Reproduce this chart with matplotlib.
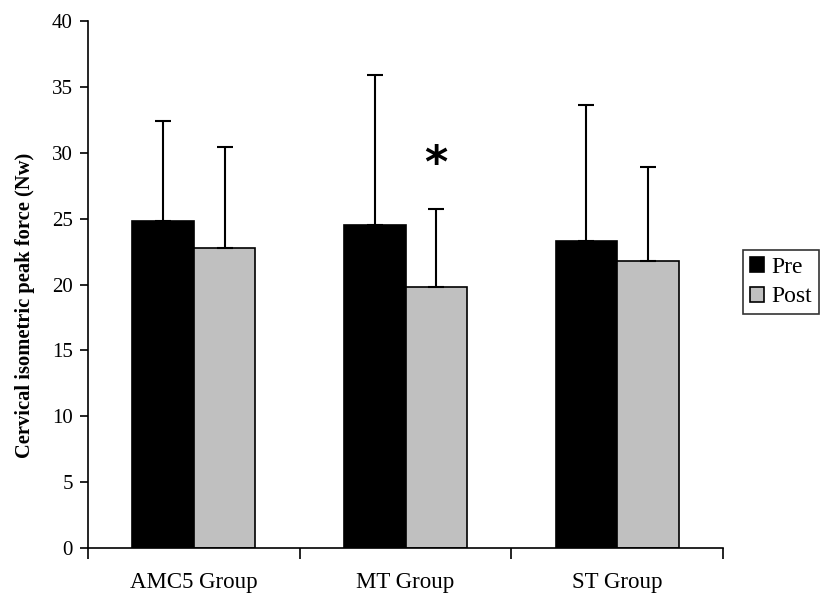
import numpy as np
import matplotlib
matplotlib.use("Agg")
import matplotlib.pyplot as plt

groups = ["AMC5 Group", "MT Group", "ST Group"]
pre_mean = [24.8, 24.5, 23.3]
pre_sd = [7.6, 11.4, 10.3]
post_mean = [22.8, 19.8, 21.8]
post_sd = [7.6, 5.9, 7.1]

plt.rcParams["font.family"] = ["Liberation Serif", "DejaVu Serif"]

fig = plt.figure(figsize=(8.23, 5.93), dpi=100)
ax = fig.add_axes([88 / 823, 1 - 548 / 593, (723 - 88) / 823, (548 - 21) / 593])

x = np.arange(len(groups))
w = 0.29
err_kw = dict(ecolor="black", elinewidth=1.5, capsize=6, capthick=1.5)

ax.bar(x - w / 2, pre_mean, w, color="black", edgecolor="black", linewidth=1.2,
       yerr=[np.zeros(3), pre_sd], error_kw=err_kw, label="Pre")
ax.bar(x + w / 2, post_mean, w, color="#c0c0c0", edgecolor="black", linewidth=1.2,
       yerr=[np.zeros(3), post_sd], error_kw=err_kw, label="Post")

# significant change in the MT group
ax.text(1 + w / 2, post_mean[1] + post_sd[1] + 3.4, "*", ha="center", va="center",
        fontsize=32, fontweight="bold", family="DejaVu Sans")

ax.set_xlim(-0.5, 2.5)
ax.set_ylim(0, 40)
ax.set_yticks(np.arange(0, 41, 5))
ax.set_xticks(x)
ax.set_xticklabels(groups, fontsize=16.5)
ax.set_xticks(np.arange(-0.5, 2.6, 1), minor=True)
ax.tick_params(axis="x", which="major", length=0, pad=17)
ax.tick_params(axis="x", which="minor", length=8, width=1.2, direction="out")
ax.tick_params(axis="y", length=6, width=1.2, labelsize=15, pad=5)

for side in ["top", "right"]:
    ax.spines[side].set_visible(False)
for side in ["left", "bottom"]:
    ax.spines[side].set_linewidth(1.2)

ax.set_ylabel("Cervical isometric peak force (Nw)", fontsize=14.8, fontweight="bold")
ax.yaxis.set_label_coords(-0.084, 0.461)

leg = fig.legend(loc="upper left", bbox_to_anchor=(743 / 823, 1 - 250 / 593),
                 fontsize=17, frameon=True, fancybox=False, edgecolor="black",
                 handlelength=0.6, handleheight=0.6, handletextpad=0.3,
                 borderpad=0.3, labelspacing=0.35, borderaxespad=0)
leg.get_frame().set_linewidth(1.2)

fig.savefig("out.png", dpi=100)
